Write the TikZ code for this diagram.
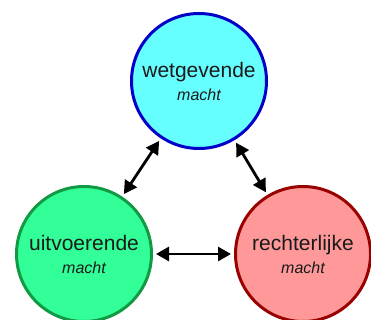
\documentclass[tikz,border=0pt]{standalone}
\usepackage{fontspec}
\setmainfont{Liberation Sans}
\usetikzlibrary{arrows.meta}
\definecolor{cyanfill}{HTML}{66FFFF}
\definecolor{cyanline}{HTML}{0000C8}
\definecolor{greenfill}{HTML}{33FF99}
\definecolor{greenline}{HTML}{119944}
\definecolor{redfill}{HTML}{FF9999}
\definecolor{redline}{HTML}{990000}
\definecolor{txt}{HTML}{1A1A1A}
\tikzset{
  power/.style={circle, line width=3pt, minimum size=135pt, inner sep=0pt,
    align=center, text=txt, font=\fontsize{21}{23}\selectfont},
  link/.style={line width=2.8pt, {Triangle[length=13pt,width=14pt]}-{Triangle[length=13pt,width=14pt]},
    shorten <=3pt, shorten >=3pt}
}
\newcommand{\powerlabel}[1]{#1\\{\fontsize{16}{18}\selectfont\itshape macht}}
\begin{document}
\begin{tikzpicture}[x=1pt,y=-1pt]
\useasboundingbox (0,0) rectangle (371,320);
\node[power, draw=cyanline, fill=cyanfill] (t) at (199,81) {\powerlabel{wetgevende}};
\node[power, draw=greenline, fill=greenfill] (g) at (84,254) {\powerlabel{uitvoerende}};
\node[power, draw=redline, fill=redfill] (r) at (303,254) {\powerlabel{rechterlijke}};
\draw[link] (g) -- (t);
\draw[link] (t) -- (r);
\draw[link] (g) -- (r);
\end{tikzpicture}
\end{document}
